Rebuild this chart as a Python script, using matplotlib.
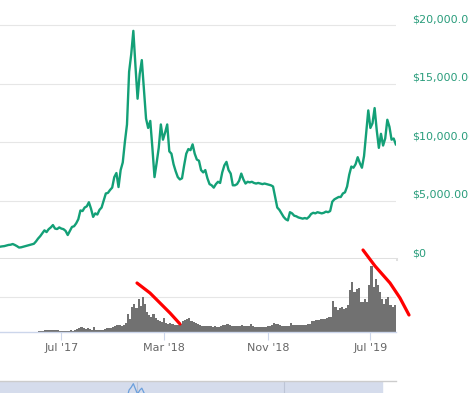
import pandas as pd
import matplotlib
matplotlib.use("Agg")
import matplotlib.pyplot as plt
from matplotlib.lines import Line2D
from matplotlib.patches import Rectangle

# ---- Data (one value every 5 days from 6 Feb 2017)
dates = pd.date_range("2017-02-06", periods=188, freq="5D")

price = [
    1050, 1080, 1100, 1150, 1200, 1220, 1280, 1200, 1100, 980,
    1000, 1050, 1100, 1150, 1200, 1250, 1300, 1500, 1750, 1950,
    2200, 2450, 2300, 2550, 2700, 2900, 2600, 2560, 2700, 2600,
    2550, 2400, 2050, 2400, 2740, 2800, 3050, 3400, 4150, 4100,
    4400, 4500, 4850, 4300, 3600, 3900, 3800, 4200, 4400, 5000,
    5600, 5650, 5900, 6100, 7000, 7350, 6150, 7600, 8250, 10000,
    11500, 16000, 17500, 19500, 16500, 13700, 15800, 17000, 14500, 12000,
    11200, 11800, 9500, 7000, 8200, 9500, 11500, 10200, 10800, 11500,
    9200, 9000, 8100, 7500, 7000, 6800, 6900, 8000, 9000, 9400,
    9300, 9800, 9000, 8500, 8400, 7600, 7400, 7600, 6900, 6400,
    6300, 6100, 6400, 6600, 6500, 7400, 8000, 8300, 7600, 7300,
    6300, 6300, 6400, 6700, 7300, 6800, 6450, 6600, 6550, 6600,
    6500, 6450, 6500, 6450, 6400, 6450, 6400, 6350, 6300, 6200,
    5300, 4400, 4200, 3900, 3600, 3400, 3300, 4000, 3900, 3700,
    3650, 3550, 3500, 3450, 3500, 3450, 3600, 3850, 3950, 3900,
    4000, 3950, 3900, 3950, 4050, 4000, 4100, 4900, 5100, 5200,
    5300, 5300, 5600, 5700, 6200, 7200, 7900, 7800, 8100, 8700,
    8200, 7800, 8800, 10800, 12700, 11200, 11600, 12900, 11000, 9500,
    10700, 9700, 10300, 11900, 11300, 10200, 10300, 9800,
]

# volume in billions of dollars
volume = [
    0, 0, 0, 0, 0, 0, 0, 0, 0, 0,
    0, 0, 0, 0, 0, 0, 0, 0, 0.4, 0.4,
    0.6, 0.9, 1.1, 0.9, 1.1, 1.1, 1.2, 0.9, 0.8, 0.6,
    0.3, 0.6, 0.7, 0.9, 0.6, 1.1, 1.7, 2.3, 2.6, 2.0,
    1.7, 2.0, 1.7, 1.4, 3.1, 1.1, 1.1, 1.4, 1.1, 1.7,
    2.3, 2.0, 2.0, 2.6, 3.7, 4.0, 4.0, 3.4, 4.0, 5.1,
    10.3, 7.4, 14.3, 16.0, 13.7, 18.9, 14.9, 20.0, 16.0, 11.4,
    9.7, 8.6, 10.3, 8.0, 6.9, 6.3, 5.7, 8.0, 5.1, 4.6,
    5.1, 4.3, 4.0, 4.0, 4.0, 4.6, 6.3, 6.9, 7.4, 8.0,
    6.3, 5.7, 5.1, 4.6, 4.0, 3.7, 3.4, 3.4, 3.7, 3.4,
    3.1, 3.4, 2.9, 2.9, 3.4, 4.0, 4.0, 4.6, 4.0, 3.4,
    3.7, 3.4, 3.4, 3.7, 4.0, 3.4, 3.4, 3.7, 4.6, 3.4,
    3.1, 2.9, 2.9, 2.9, 2.9, 3.1, 3.4, 3.4, 4.0, 5.1,
    4.6, 4.3, 4.0, 3.7, 3.7, 3.7, 3.7, 5.1, 4.0, 4.0,
    4.0, 4.0, 4.0, 4.0, 4.0, 4.6, 4.6, 6.0, 6.3, 6.6,
    6.9, 7.4, 7.4, 7.4, 8.0, 8.6, 8.6, 17.7, 14.3, 12.6,
    13.7, 14.3, 13.1, 13.7, 15.4, 24.0, 28.6, 22.9, 24.6, 25.1,
    17.1, 17.1, 18.9, 17.1, 26.9, 37.7, 25.7, 30.3, 26.9, 22.9,
    18.9, 16.0, 18.9, 20.0, 15.4, 14.3, 15.4, 14.9,
]

price_ticks = [0, 5000, 10000, 15000, 20000]
price_labels = ["$0", "$5,000.00", "$10,000.00", "$15,000.00", "$20,000.00"]

date_ticks = pd.to_datetime(["2017-07-01", "2018-03-01", "2018-11-01", "2019-07-01"])
date_labels = ["Jul '17", "Mar '18", "Nov '18", "Jul '19"]

x_start = pd.Timestamp("2017-02-06")
x_end = pd.Timestamp("2019-08-30 12:00")

green = "#13a077"
grid = "#e6e6e6"
axis_blue = "#ccd6eb"

W, H = 469, 393


def box(x0, y0, x1, y1):
    return [x0 / W, 1 - y1 / H, (x1 - x0) / W, (y1 - y0) / H]


fig = plt.figure(figsize=(W / 100, H / 100), dpi=100)

# ---- Price panel
ax_p = fig.add_axes(box(0, 0, 396, 259))
ax_p.plot(dates, price, color=green, lw=1.7, solid_joinstyle="round", zorder=3)
ax_p.set_xlim(x_start, x_end)
ax_p.set_ylim(0, 22137)
ax_p.set_yticks(price_ticks[1:])
ax_p.grid(axis="y", color=grid, lw=0.8)
ax_p.axhline(0, color="#e0e0e0", lw=2.2, clip_on=False, zorder=1)
ax_p.tick_params(length=0, labelleft=False, labelbottom=False)
for s in ax_p.spines.values():
    s.set_visible(False)
for v, lab in zip(price_ticks, price_labels):
    ax_p.annotate(lab, xy=(1, v), xycoords=("axes fraction", "data"),
                  xytext=(11.3, 4.3), textcoords="offset points",
                  ha="left", va="center", fontsize=8, color="#2a9d7c",
                  annotation_clip=False)

# ---- Volume panel
ax_v = fig.add_axes(box(0, 259, 396, 332))
ax_v.bar(dates, volume, width=5, align="edge", color="#717171", linewidth=0, zorder=2)
ax_v.set_xlim(x_start, x_end)
ax_v.set_ylim(0, 41.7)
ax_v.set_yticks([20])
ax_v.grid(axis="y", color=grid, lw=0.8)
ax_v.set_axisbelow(True)
ax_v.tick_params(axis="y", length=0, labelleft=False)
ax_v.set_xticks(date_ticks)
ax_v.set_xticklabels(date_labels)
ax_v.tick_params(axis="x", length=5.5, width=0.8, color=axis_blue, pad=2.5,
                 labelsize=8, labelcolor="#666666")
for k in ["top", "left", "right"]:
    ax_v.spines[k].set_visible(False)
ax_v.spines["bottom"].set_color(axis_blue)
ax_v.spines["bottom"].set_linewidth(1)

# ---- Navigator strip
ax_n = fig.add_axes(box(0, 381, 396, 393))
ax_n.add_patch(Rectangle((0, 0), 382 / 396, 1, transform=ax_n.transAxes,
                         color="#d5dcec", zorder=0))
for fx in [137 / 396, 284 / 396]:
    ax_n.plot([fx, fx], [0, 1], transform=ax_n.transAxes, color="#bcc4d6", lw=0.8)
ax_n.plot(dates, price, color="#6a9fdc", lw=0.9, zorder=3)
ax_n.set_xlim(x_start, x_end)
ax_n.set_ylim(14300, 21000)
ax_n.set_xticks([])
ax_n.set_yticks([])
for k in ["bottom", "left", "right"]:
    ax_n.spines[k].set_visible(False)
ax_n.spines["top"].set_color("#cccccc")
ax_n.spines["top"].set_linewidth(1)

# ---- Hand-drawn red marks
red_marks = [
    [(137, 283), (150, 293), (160, 303), (170, 313), (180, 324)],
    [(363, 250), (375, 266), (390, 283), (400, 298), (409, 315)],
]
for mark in red_marks:
    xs = [p[0] / W for p in mark]
    ys = [1 - p[1] / H for p in mark]
    fig.add_artist(Line2D(xs, ys, color="#ff0000", lw=2.3, solid_capstyle="round"))

fig.savefig("out.png", dpi=100)
